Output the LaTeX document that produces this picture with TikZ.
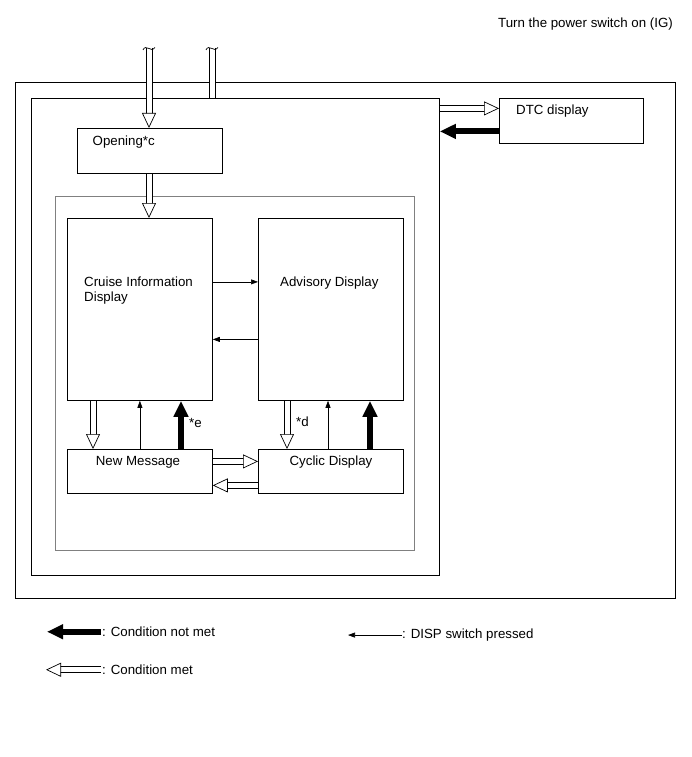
\documentclass[tikz,border=0pt]{standalone}
\usepackage{fontspec}
\setmainfont{Liberation Sans}
\usetikzlibrary{arrows.meta, positioning}
\tikzstyle{box} = [draw, line width=0.8pt, inner sep=0pt, anchor=north west]
\tikzstyle{txt} = [inner sep=0pt, font=\fontsize{13.3}{15}\selectfont]
\tikzstyle{metline} = [draw, line width=1pt, double=white, double distance=5pt]
\tikzstyle{mettip} = [draw=white, line width=0.1pt, -{Triangle[open, fill=white, color=black, line width=0.7pt, length=15pt, width=14pt]}]
\tikzstyle{notmet} = [line width=6pt, -{Triangle[length=16pt, width=14pt]}]
\tikzstyle{disp} = [line width=0.6pt, -{Triangle[length=7pt, width=5pt]}]
\newcommand{\metarrow}[2]{\draw[metline, shorten >=14pt] #1 -- #2; \draw[mettip] #1 -- #2;}

\begin{document}
\begin{tikzpicture}[x=1pt, y=-1pt]
    \useasboundingbox (0,0) rectangle (691,757);
    % boxes
    \node[box, minimum width=660pt, minimum height=516pt] (outer) at (15,82) {};
    \node[box, minimum width=408pt, minimum height=477pt] (inner) at (31,98) {};
    \node[box, draw=gray, minimum width=359pt, minimum height=354pt] (group) at (55,196) {};
    \node[box, minimum width=145pt, minimum height=45pt] (opening) at (77,128) {};
    \node[box, minimum width=144pt, minimum height=45pt] (dtc) at (499,98) {};
    \node[box, minimum width=145pt, minimum height=182pt] (cruise) at (67,218) {};
    \node[box, minimum width=145pt, minimum height=182pt] (advisory) at (258,218) {};
    \node[box, minimum width=145pt, minimum height=44pt] (newmsg) at (67,449) {};
    \node[box, minimum width=145pt, minimum height=44pt] (cyclic) at (258,449) {};
    % texts
    \node[txt, anchor=base east] (title) at (673,27.5) {Turn the power switch on (IG)};
    \node[txt, anchor=base west] (openingtxt) at (92.5,145) {Opening*c};
    \node[txt, anchor=base west] (dtctxt) at (516,115) {DTC display};
    \node[txt, anchor=north west, align=left] (cruisetxt) at (84,276.5) {Cruise Information\\Display};
    \node[txt, anchor=base west] (advisorytxt) at (280,286.5) {Advisory Display};
    \node[txt, anchor=base] (newmsgtxt) at (138,465) {New Message};
    \node[txt, anchor=base] (cyclictxt) at (331,465) {Cyclic Display};
    \node[txt, anchor=base west] (etxt) at (189,427) {*e};
    \node[txt, anchor=base west] (dtxt) at (296,426.5) {*d};
    % incoming
    \coordinate (inA) at (149,48);
    \coordinate (inB) at (212,48);
    \metarrow{(inA)}{(inA |- opening.north)}
    \draw[metline] (inB) -- (inB |- inner.north);
    \foreach \c in {inA, inB}
      \draw[line width=0.7pt] ([shift={(-6,2)}]\c) .. controls ([shift={(-5,-1)}]\c) and ([shift={(-2,-1)}]\c) .. ([shift={(0,0.5)}]\c)
        .. controls ([shift={(2,2)}]\c) and ([shift={(4,2)}]\c) .. ([shift={(6,-0.5)}]\c);
    \coordinate (oA) at (inA |- opening.south);
    \metarrow{(oA)}{(oA |- cruise.north)}
    % dtc
    \coordinate (dtcin) at ([yshift=12.5pt]dtc.west);
    \coordinate (dtcout) at ([yshift=-10.5pt]dtc.west);
    \metarrow{(inner.east |- dtcin)}{(dtcin)}
    \draw[notmet] (dtcout) -- (inner.east |- dtcout);
    % cruise / advisory
    \draw[disp] ([yshift=27.5pt]cruise.east) -- ([yshift=27.5pt]advisory.west);
    \draw[disp] ([yshift=-30pt]advisory.west) -- ([yshift=-30pt]cruise.east);
    \coordinate (cA) at ([xshift=26pt]cruise.south west);
    \coordinate (cB) at ([xshift=114pt]newmsg.north west);
    \metarrow{(cA)}{(cA |- newmsg.north)}
    \draw[disp] (newmsg.north) -- (cruise.south);
    \draw[notmet] (cB) -- (cB |- cruise.south);
    \coordinate (aA) at ([xshift=29pt]advisory.south west);
    \coordinate (aB) at ([xshift=70pt]cyclic.north west);
    \coordinate (aC) at ([xshift=112pt]cyclic.north west);
    \metarrow{(aA)}{(aA |- cyclic.north)}
    \draw[disp] (aB) -- (aB |- advisory.south);
    \draw[notmet] (aC) -- (aC |- advisory.south);
    % new message / cyclic
    \metarrow{([yshift=10pt]newmsg.east)}{([yshift=10pt]cyclic.west)}
    \metarrow{([yshift=-14pt]cyclic.west)}{([yshift=-14pt]newmsg.east)}
    % legend
    \node[txt, anchor=base west] (lgnot) at (102,636.5) {: Condition not met};
    \node[txt, anchor=base west] (lgmet) at (102,674.5) {: Condition met};
    \node[txt, anchor=base west] (lgdisp) at (402,638.5) {: DISP switch pressed};
    \draw[notmet] ([xshift=-1pt]lgnot.west) -- ++(-54,0);
    \metarrow{([xshift=-1pt]lgmet.west)}{([xshift=-56pt]lgmet.west)}
    \draw[disp] (lgdisp.west) -- ++(-54,0);
\end{tikzpicture}
\end{document}
